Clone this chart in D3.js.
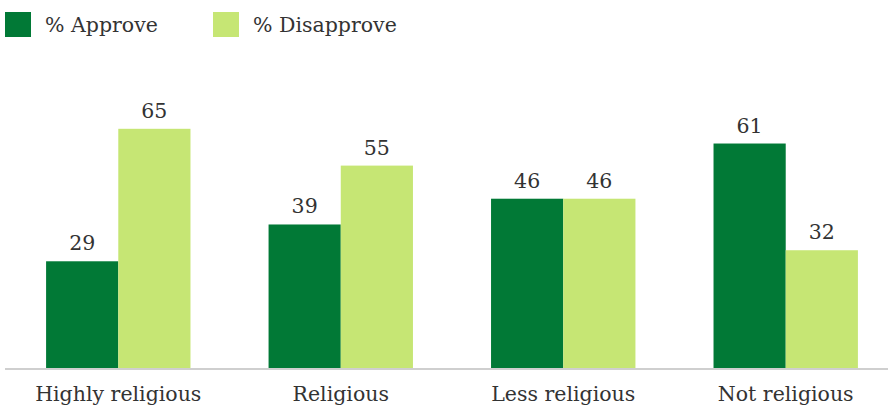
<!DOCTYPE html>
<html>
<head>
<meta charset="utf-8">
<script src="https://cdn.jsdelivr.net/npm/d3@7"></script>
<style>
  html, body { margin: 0; padding: 0; background: #fff; }
  svg { display: block; }
</style>
</head>
<body>
<div id="chart"></div>
<script>
const categories = ['Highly religious', 'Religious', 'Less religious', 'Not religious'];
const seriesNames = ['% Approve', '% Disapprove'];
const approve = [29, 39, 46, 61];
const disapprove = [65, 55, 46, 32];
const colors = ['#017936', '#c6e674'];

const W = 888, H = 409;
const FONT = '"DejaVu Serif", Georgia, serif';
const FS = 20.5;

const rows = categories.map((c, i) => ({ cat: c, vals: [approve[i], disapprove[i]] }));

const svg = d3.select('#chart')
  .append('svg')
  .attr('width', W)
  .attr('height', H)
  .attr('font-family', FONT);

const x = d3.scaleBand()
  .domain(categories)
  .range([7, 897])
  .paddingInner(0.351)
  .paddingOuter(0.1757);

const xs = d3.scaleBand()
  .domain(d3.range(seriesNames.length))
  .range([0, x.bandwidth()]);

const y = d3.scaleLinear()
  .domain([0, 100])
  .range([368, 0]);

// legend
const legend = svg.append('g')
  .selectAll('g')
  .data(seriesNames)
  .join('g')
  .attr('transform', (d, i) => `translate(${[5, 213][i]},12)`);

legend.append('rect')
  .attr('width', 26)
  .attr('height', 25)
  .attr('fill', (d, i) => colors[i]);

legend.append('text')
  .attr('x', 40)
  .attr('y', 20)
  .attr('font-size', FS)
  .attr('fill', '#333')
  .text(d => d);

// bars
const group = svg.append('g')
  .selectAll('g')
  .data(rows)
  .join('g')
  .attr('transform', d => `translate(${x(d.cat)},0)`);

group.selectAll('rect')
  .data(d => d.vals)
  .join('rect')
  .attr('x', (d, i) => xs(i))
  .attr('y', d => y(d))
  .attr('width', xs.bandwidth())
  .attr('height', d => y(0) - y(d))
  .attr('fill', (d, i) => colors[i]);

group.selectAll('text')
  .data(d => d.vals)
  .join('text')
  .attr('x', (d, i) => xs(i) + xs.bandwidth() / 2)
  .attr('y', d => y(d) - 11)
  .attr('text-anchor', 'middle')
  .attr('font-size', FS)
  .attr('fill', '#333')
  .text(d => d);

// baseline
svg.append('line')
  .attr('x1', 5)
  .attr('x2', W)
  .attr('y1', y(0) + 1)
  .attr('y2', y(0) + 1)
  .attr('stroke', '#cfcfcf')
  .attr('stroke-width', 2);

// category labels
const xAxis = d3.axisBottom(x).tickSize(0).tickPadding(0);
const ax = svg.append('g')
  .attr('transform', `translate(0,${y(0)})`)
  .call(xAxis);
ax.select('.domain').remove();
ax.selectAll('text')
  .attr('font-family', FONT)
  .attr('font-size', FS)
  .attr('fill', '#333')
  .attr('dy', null)
  .attr('y', 33);
</script>
</body>
</html>
